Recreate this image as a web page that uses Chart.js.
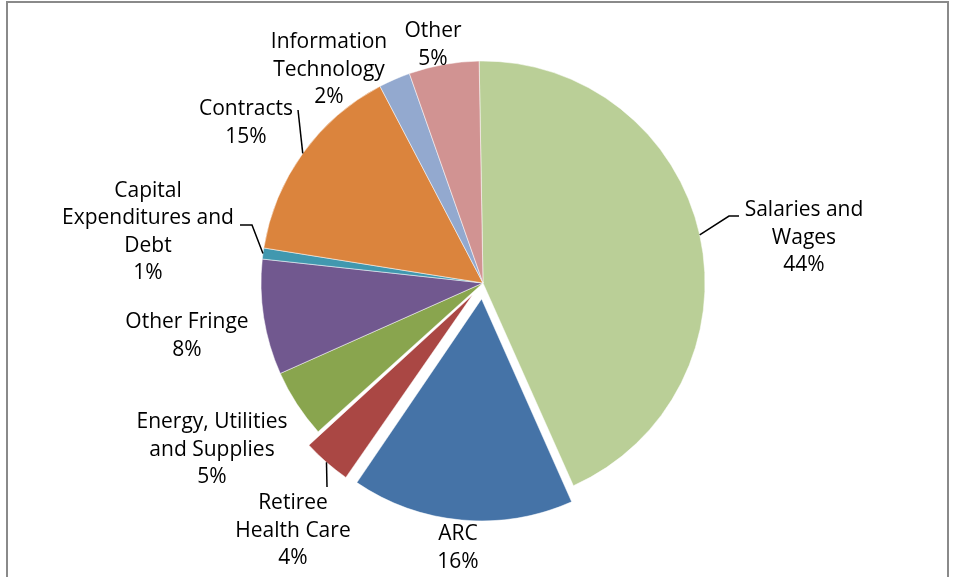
<!DOCTYPE html>
<html>
<head>
<meta charset="utf-8">
<script src="https://cdn.jsdelivr.net/npm/chart.js@4"></script>
<style>
    body { margin: 0; background: #fff; overflow: hidden; }
    #frame {
        position: absolute; left: 6px; top: 1px; width: 939px; height: 640px;
        border: 2px solid #8a8a8a;
    }
    #pie { position: absolute; left: 0; top: 0; }
</style>
</head>
<body>
<div id="frame"></div>
<canvas id="pie" width="956" height="577"></canvas>
<script>
(function () {
    const categories = [
        "Salaries and Wages", "ARC", "Retiree Health Care", "Energy, Utilities and Supplies",
        "Other Fringe", "Capital Expenditures and Debt", "Contracts", "Information Technology", "Other"
    ];
    // shares in percent
    const shares = [43.6, 16.2, 3.8, 5.0, 8.4, 0.8, 14.8, 2.3, 5.1];
    // how the category names wrap in the labels
    const labelLines = [
        ["Salaries and", "Wages"], ["ARC"], ["Retiree", "Health Care"], ["Energy, Utilities", "and Supplies"],
        ["Other Fringe"], ["Capital", "Expenditures and", "Debt"], ["Contracts"], ["Information", "Technology"], ["Other"]
    ];
    const colors = ["#bacf97", "#4573a7", "#aa4744", "#89a54e", "#71588f", "#4198af", "#db843d", "#93a9cf", "#d19392"];
    const explodePx = [0, 16, 16, 0, 0, 0, 0, 0, 0];
    const R = 222;

    // label block centres, relative to the pie centre
    const labelPos = [[321, -45], [-25, 265], [-190, 248], [-271, 167], [-296, 53], [-335, -51], [-237, -160], [-154, -213], [-50, -238]];
    // leader lines start mid-slice on the rim and run to these points
    const leaders = {
        0: [[246, -67], [256, -67]],
        2: [[-156, 204]],
        5: [[-231, -58], [-243, -58]],
        6: [[-185, -173]],
    };

    const total = shares.reduce((a, b) => a + b, 0);

    const pieLabels = {
        id: 'pieLabels',
        beforeDatasetsDraw(chart) {
            // v4 grows thin exploded slices; pull them back to the common radius
            chart.getDatasetMeta(0).data.forEach((arc, i) => {
                const circ = arc.endAngle - arc.startAngle;
                const fix = 1 - Math.sin(Math.min(Math.PI, circ));
                arc.outerRadius = R - explodePx[i] * fix;
            });
        },
        afterDatasetsDraw(chart) {
            const ctx = chart.ctx;
            const arcs = chart.getDatasetMeta(0).data;
            ctx.save();
            ctx.fillStyle = '#000';
            ctx.strokeStyle = '#000';
            ctx.lineWidth = 1.5;
            ctx.font = '21px "Open Sans"';
            ctx.textAlign = 'center';
            ctx.textBaseline = 'middle';
            arcs.forEach((arc, i) => {
                const cx = arc.x, cy = arc.y;
                const lines = labelLines[i].concat([Math.round(shares[i] / total * 100) + '%']);
                const lh = 27.5;
                const bx = cx + labelPos[i][0], by = cy + labelPos[i][1];
                lines.forEach((t, k) => {
                    ctx.fillText(t, bx, by + (k - (lines.length - 1) / 2) * lh);
                });
                const pts = leaders[i];
                if (pts) {
                    const mid = (arc.startAngle + arc.endAngle) / 2;
                    const d = R + explodePx[i];
                    ctx.beginPath();
                    ctx.moveTo(cx + Math.cos(mid) * d, cy + Math.sin(mid) * d);
                    pts.forEach(p => ctx.lineTo(cx + p[0], cy + p[1]));
                    ctx.stroke();
                }
            });
            ctx.restore();
        }
    };

    new Chart(document.getElementById('pie'), {
        type: 'pie',
        data: {
            labels: categories,
            datasets: [{
                data: shares,
                backgroundColor: colors,
                borderColor: '#ffffff',
                borderWidth: 0.5,
                // v4 arcs move by offset / 4
                offset: explodePx.map(d => d * 4),
            }]
        },
        options: {
            responsive: false,
            animation: false,
            radius: R,
            rotation: -1,
            layout: { padding: { left: 10, right: 0, top: 0, bottom: 11 } },
            plugins: {
                legend: { display: false },
                tooltip: { enabled: false },
            },
        },
        plugins: [pieLabels],
    });
})();
</script>
</body>
</html>
